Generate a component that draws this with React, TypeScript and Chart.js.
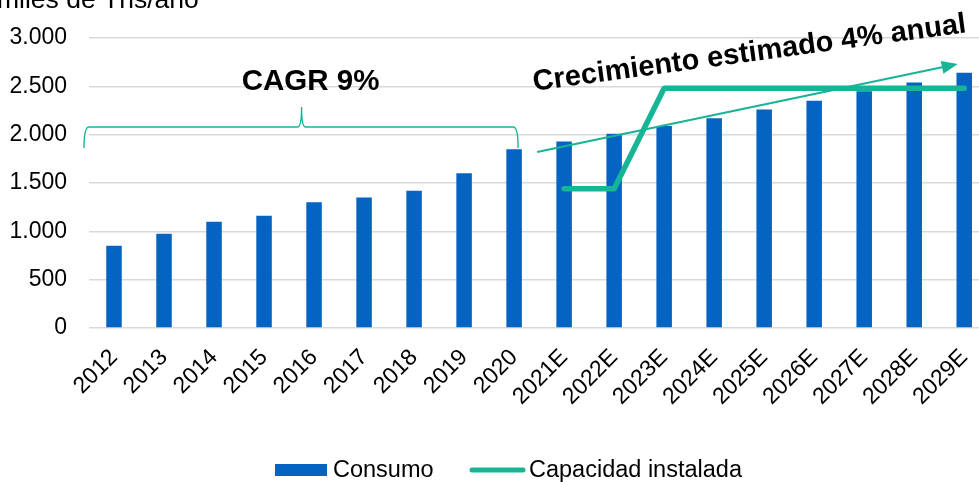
import React, { useEffect, useRef } from 'react';
import { Chart, registerables } from 'chart.js';

Chart.register(...registerables);

// ---- data ----
const categories = [
  '2012', '2013', '2014', '2015', '2016', '2017', '2018', '2019', '2020',
  '2021E', '2022E', '2023E', '2024E', '2025E', '2026E', '2027E', '2028E', '2029E',
];
const consumo = [850, 975, 1100, 1160, 1300, 1350, 1420, 1600, 1850, 1930, 2010, 2090, 2170, 2260, 2350, 2450, 2540, 2640];
const capacidad = [null, null, null, null, null, null, null, null, null, 1440, 1440, 2480, 2480, 2480, 2480, 2480, 2480, 2480];
const seriesNames = ['Consumo', 'Capacidad instalada'];
const yMin = 0;
const yMax = 3000;
const yStep = 500;
const axisTitle = 'miles de Tns/año';
const cagrLabel = 'CAGR 9%';
const growthLabel = 'Crecimiento estimado 4% anual';

// annotation anchors in data units: [category index, value]
const braceRange = [-0.6, 8.08];
const braceTipIndex = 3.75;
const braceValues = { level: 2079, ends: 1862, tip: 2286 };
const arrowStart = [8.46, 1821];
const arrowEnd = [16.87, 2731];
const cagrAt = [3.93, 2462];
const growthAt = [8.4, 2455];

const BLUE = '#0563C1';
const TEAL = '#17B496';
const FONT = "'Liberation Sans', Arial, sans-serif";

const fmt = (v: number) => String(v).replace(/\B(?=(\d{3})+(?!\d))/g, '.');

const annotationPlugin = {
  id: 'annotations',
  afterDatasetsDraw(chart: any) {
    const ctx = chart.ctx as CanvasRenderingContext2D;
    const xs = chart.scales.x;
    const ys = chart.scales.y;
    const px = (i: number) => xs.getPixelForValue(i);
    const py = (v: number) => ys.getPixelForValue(v);
    ctx.save();
    // brace
    const xl = px(braceRange[0]);
    const xr = px(braceRange[1]);
    const xt = px(braceTipIndex);
    const yb = py(braceValues.level);
    const ye = py(braceValues.ends);
    const yt = py(braceValues.tip);
    ctx.strokeStyle = TEAL;
    ctx.lineWidth = 1.4;
    ctx.beginPath();
    ctx.moveTo(xl, ye);
    ctx.quadraticCurveTo(xl, yb, xl + 5, yb);
    ctx.lineTo(xt - 4, yb);
    ctx.quadraticCurveTo(xt, yb, xt, yt);
    ctx.quadraticCurveTo(xt, yb, xt + 4, yb);
    ctx.lineTo(xr - 5, yb);
    ctx.quadraticCurveTo(xr, yb, xr, ye);
    ctx.stroke();

    // arrow
    const ax0 = px(arrowStart[0]);
    const ay0 = py(arrowStart[1]);
    const ax1 = px(arrowEnd[0]);
    const ay1 = py(arrowEnd[1]);
    const ang = Math.atan2(ay1 - ay0, ax1 - ax0);
    const headLen = 16;
    const headHalf = 6.5;
    const bx = ax1 - headLen * Math.cos(ang);
    const by = ay1 - headLen * Math.sin(ang);
    ctx.lineWidth = 2.2;
    ctx.beginPath();
    ctx.moveTo(ax0, ay0);
    ctx.lineTo(bx, by);
    ctx.stroke();
    ctx.fillStyle = TEAL;
    ctx.beginPath();
    ctx.moveTo(ax1, ay1);
    ctx.lineTo(bx + headHalf * Math.sin(ang), by - headHalf * Math.cos(ang));
    ctx.lineTo(bx - headHalf * Math.sin(ang), by + headHalf * Math.cos(ang));
    ctx.closePath();
    ctx.fill();

    // texts
    ctx.fillStyle = '#000';
    ctx.font = `bold 29.5px ${FONT}`;
    ctx.textAlign = 'center';
    ctx.textBaseline = 'alphabetic';
    ctx.fillText(cagrLabel, px(cagrAt[0]), py(cagrAt[1]));

    ctx.translate(px(growthAt[0]), py(growthAt[1]));
    ctx.rotate((-7.7 * Math.PI) / 180);
    ctx.font = `bold 29px ${FONT}`;
    ctx.textAlign = 'left';
    ctx.fillText(growthLabel, 0, 0);
    ctx.restore();
  },
  afterDraw(chart: any) {
    const ctx = chart.ctx as CanvasRenderingContext2D;
    ctx.save();
    // axis title (partially cut at top)
    ctx.fillStyle = '#000';
    ctx.font = `26.5px ${FONT}`;
    ctx.textAlign = 'left';
    ctx.textBaseline = 'alphabetic';
    ctx.fillText(axisTitle, -3, 8);

    // legend
    const ly = 470;
    ctx.font = `23.5px ${FONT}`;
    ctx.textBaseline = 'middle';
    ctx.fillStyle = BLUE;
    ctx.fillRect(275, ly - 6, 52, 12);
    ctx.fillStyle = '#000';
    ctx.fillText(seriesNames[0], 333, ly + 1);
    ctx.strokeStyle = TEAL;
    ctx.lineWidth = 5;
    ctx.lineCap = 'round';
    ctx.beginPath();
    ctx.moveTo(472, ly);
    ctx.lineTo(523, ly);
    ctx.stroke();
    ctx.fillText(seriesNames[1], 529, ly + 1);
    ctx.restore();
  },
};

export default function App() {
  const ref = useRef<HTMLCanvasElement | null>(null);
  useEffect(() => {
    document.body.style.overflow = 'hidden';
    const canvas = ref.current!;
    const chart = new Chart(canvas, {
      type: 'bar',
      data: {
        labels: categories,
        datasets: [
          {
            type: 'line',
            label: seriesNames[1],
            data: capacidad,
            borderColor: TEAL,
            backgroundColor: TEAL,
            borderWidth: 5.5,
            borderCapStyle: 'round',
            borderJoinStyle: 'round',
            pointRadius: 0,
            pointHoverRadius: 0,
            spanGaps: false,
            order: 0,
          } as any,
          {
            type: 'bar',
            label: seriesNames[0],
            data: consumo,
            backgroundColor: BLUE,
            borderWidth: 0,
            categoryPercentage: 1,
            barPercentage: 0.31,
            order: 1,
          },
        ],
      },
      options: {
        responsive: false,
        animation: false,
        devicePixelRatio: 1,
        layout: { padding: { top: 38, right: 9, bottom: 0, left: 0 } },
        plugins: {
          legend: { display: false },
          title: { display: false },
          tooltip: { enabled: false },
        },
        scales: {
          x: {
            grid: { display: false, drawTicks: false },
            border: { display: false },
            ticks: {
              color: '#000',
              font: { family: FONT, size: 23 },
              minRotation: 45,
              maxRotation: 45,
              padding: 16,
              labelOffset: 0,
              autoSkip: false,
            },
            afterFit: (s: any) => {
              s.height = 154;
            },
          },
          y: {
            min: yMin,
            max: yMax,
            grid: { color: '#D9D9D9', lineWidth: 1.6, drawTicks: false },
            border: { display: false },
            ticks: {
              stepSize: yStep,
              color: '#000',
              font: { family: FONT, size: 23 },
              padding: 22,
              callback: (v: any) => fmt(Number(v)),
            },
            afterFit: (s: any) => {
              s.width = 89;
            },
          },
        },
      },
      plugins: [annotationPlugin],
    });
    return () => chart.destroy();
  }, []);
  return (
    <canvas
      ref={ref}
      width={1000}
      height={482}
      style={{ position: 'fixed', left: 0, top: 0, width: 1000, height: 482, display: 'block' }}
    />
  );
}
